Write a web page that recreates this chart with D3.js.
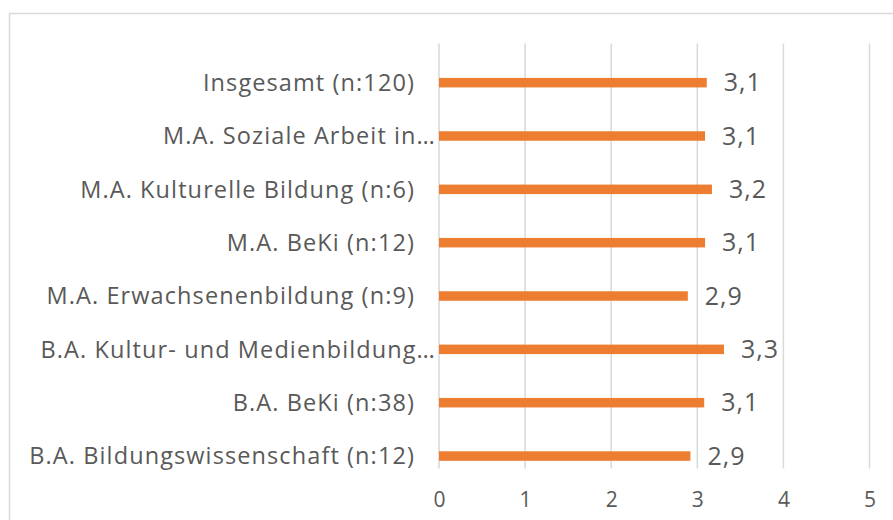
<!DOCTYPE html>
<html>
<head>
<meta charset="utf-8">
<script src="https://cdn.jsdelivr.net/npm/d3@7"></script>
<style>
  body { margin: 0; background: #fff; }
  text { font-family: "Open Sans", sans-serif; fill: #595959; }
</style>
</head>
<body>
<div class="chart"></div>
<script>
var categories = [
    "Insgesamt (n:120)",
    "M.A. Soziale Arbeit in…",
    "M.A. Kulturelle Bildung (n:6)",
    "M.A. BeKi (n:12)",
    "M.A. Erwachsenenbildung (n:9)",
    "B.A. Kultur- und Medienbildung…",
    "B.A. BeKi (n:38)",
    "B.A. Bildungswissenschaft (n:12)"
];
var values = [3.11, 3.09, 3.17, 3.09, 2.89, 3.31, 3.08, 2.92];
var xTicks = [0, 1, 2, 3, 4, 5];

var svgWidth = 893;
var svgHeight = 520;

var svg = d3.select(".chart")
    .append("svg")
    .attr("width", svgWidth)
    .attr("height", svgHeight);

// outer frame of the chart area
svg.append("rect")
    .attr("x", 9.5)
    .attr("y", 13.5)
    .attr("width", 900)
    .attr("height", 520)
    .attr("fill", "none")
    .attr("stroke", "#d9d9d9")
    .attr("stroke-width", 1.5);

var xScale = d3.scaleLinear()
    .domain([0, 5])
    .range([439, 869.5]);

var yScale = d3.scaleBand()
    .domain(categories)
    .range([56, 482.7]);

var gridTop = 43.5;
var gridBottom = 468.5;

// gridlines
svg.selectAll(".grid")
    .data(xTicks)
    .enter()
    .append("line")
    .attr("x1", d => xScale(d))
    .attr("x2", d => xScale(d))
    .attr("y1", gridTop)
    .attr("y2", gridBottom)
    .attr("stroke", "#d9d9d9")
    .attr("stroke-width", 1.5);

// x axis labels
var xAxis = d3.axisBottom(xScale)
    .tickValues(xTicks)
    .tickSize(0)
    .tickPadding(0)
    .tickFormat(d3.format("d"));

var axisG = svg.append("g")
    .attr("transform", `translate(0, ${gridBottom + 24})`)
    .call(xAxis);
axisG.select(".domain").remove();
axisG.selectAll("text")
    .attr("font-size", "21px")
    .attr("font-family", null)
    .attr("fill", "#595959");

var barH = 9.5;

svg.selectAll(".bar")
    .data(values)
    .enter()
    .append("rect")
    .attr("x", xScale(0))
    .attr("y", (d, i) => yScale(categories[i]) + yScale.bandwidth() / 2 - barH / 2)
    .attr("width", d => xScale(d) - xScale(0))
    .attr("height", barH)
    .attr("fill", "#ED7D31");

// category labels
svg.selectAll(".cat")
    .data(categories)
    .enter()
    .append("text")
    .attr("x", d => d.endsWith("…") ? 436 : 415)
    .attr("y", d => yScale(d) + yScale.bandwidth() / 2)
    .attr("dy", "0.35em")
    .attr("text-anchor", "end")
    .attr("font-size", "23.5px")
    .attr("letter-spacing", "1.1px")
    .text(d => d);

// value labels
svg.selectAll(".val")
    .data(values)
    .enter()
    .append("text")
    .attr("x", d => xScale(d) + 17)
    .attr("y", (d, i) => yScale(categories[i]) + yScale.bandwidth() / 2)
    .attr("dy", "0.35em")
    .attr("font-size", "25px")
    .attr("letter-spacing", "1px")
    .text(d => d3.format(".1f")(d).replace(".", ","));
</script>
</body>
</html>
